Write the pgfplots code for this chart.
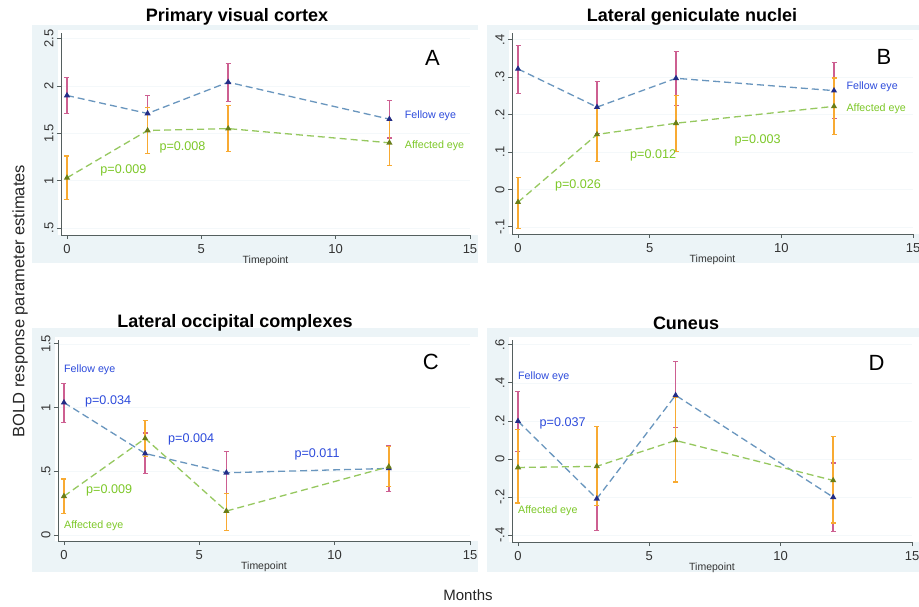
\documentclass[border=0pt]{standalone}
\usepackage{pgfplots}
\pgfplotsset{compat=1.18}
\usepackage{fontspec}
\setmainfont{Liberation Sans}
\definecolor{bgblue}{RGB}{236,244,247}
\definecolor{axisgray}{RGB}{85,95,95}
\definecolor{fellowline}{RGB}{105,150,190}
\definecolor{affline}{RGB}{150,200,95}
\definecolor{fellowerr}{RGB}{205,95,145}
\definecolor{afferr}{RGB}{248,170,50}
\definecolor{fellowmark}{RGB}{35,45,135}
\definecolor{affmark}{RGB}{105,125,25}
\definecolor{fellowtext}{RGB}{45,75,220}
\definecolor{afftext}{RGB}{125,200,40}
\pgfplotsset{
  panel/.style={
    scale only axis, anchor=south west,
    axis lines=left, axis line style={-, draw=axisgray, line width=0.9pt},
    tick align=outside, major tick length=4pt,
    tick style={draw=axisgray, line width=0.8pt},
    xtick={0,5,10,15}, xmax=15,
    tick label style={font=\fontsize{13}{13}\selectfont, text=black!80},
    xticklabel style={yshift=-2pt},
    /pgf/number format/assume math mode=true,
    yticklabel style={rotate=90, anchor=south},
    xlabel={Timepoint},
    xlabel style={font=\fontsize{10.5}{10.5}\selectfont, text=black!80, at={(axis description cs:0.5,0)}, anchor=north, yshift=-17pt},
    clip=false,
    ymajorgrids, grid style={draw=bgblue!60, line width=0.6pt},
  },
  fellow/.style={color=fellowline, line width=1.3pt, dash pattern=on 7pt off 4pt,
    mark=triangle*, mark size=2.3pt, mark options={solid, fill=fellowmark, draw=fellowmark},
    error bars/.cd, y dir=both, y explicit,
    error bar style={solid, color=fellowerr, line width=1.5pt},
    error mark options={rotate=90, mark size=2.5pt, solid, color=fellowerr, line width=1.2pt}},
  affected/.style={color=affline, line width=1.3pt, dash pattern=on 7pt off 4pt,
    mark=triangle*, mark size=2.3pt, mark options={solid, fill=affmark, draw=affmark},
    error bars/.cd, y dir=both, y explicit,
    error bar style={solid, color=afferr, line width=1.5pt},
    error mark options={rotate=90, mark size=2.5pt, solid, color=afferr, line width=1.2pt}},
}
\tikzset{
  lab/.style={font=\fontsize{10.7}{10.7}\selectfont, anchor=west, inner sep=0pt},
  pv/.style={font=\fontsize{12.6}{12.6}\selectfont, inner sep=0pt},
  big/.style={font=\fontsize{22}{22}\selectfont, inner sep=0pt},
}
\newcommand{\ptitle}{\fontsize{18}{18}\selectfont\bfseries}
\begin{document}
\begin{tikzpicture}
\path[use as bounding box] (0,0) rectangle (919pt,606pt);
% graph regions
\fill[bgblue] (32pt,343pt) rectangle (478pt,581pt);
\fill[bgblue] (487pt,343pt) rectangle (919pt,581pt);
\fill[bgblue] (32pt,34pt) rectangle (478pt,278pt);
\fill[bgblue] (487pt,34pt) rectangle (919pt,278pt);
\fill[white] (58pt,371pt) rectangle (478pt,576pt);
\fill[white] (509pt,372pt) rectangle (919pt,576pt);
\fill[white] (55pt,65pt) rectangle (478pt,269pt);
\fill[white] (509pt,64pt) rectangle (919pt,269pt);
% titles
\node[font=\ptitle] at (237pt,589pt) {Primary visual cortex};
\node[font=\ptitle] at (692pt,589pt) {Lateral geniculate nuclei};
\node[font=\ptitle] at (235pt,283pt) {Lateral occipital complexes};
\node[font=\ptitle] at (686pt,283pt) {Cuneus};
\node[rotate=90, font=\fontsize{16.5}{16.5}\selectfont, text=black!85] at (20pt,305pt) {BOLD response parameter estimates};
\node[font=\fontsize{15}{15}\selectfont, text=black!85] at (468pt,11pt) {Months};

% Panel A
\begin{axis}[panel, at={(61pt,371pt)}, width=409pt, height=202pt,
  xmin=-0.223, ymin=0.426, ymax=2.56,
  ytick={0.5,1,1.5,2,2.5}, yticklabels={.5,1,1.5,2,2.5}]
\addplot[fellow] table[x=x, y=y, y error plus=ep, y error minus=em] {
x y ep em
0 1.90 0.19 0.19
3 1.71 0.19 0.19
6 2.04 0.20 0.20
12 1.65 0.20 0.20
};
\addplot[affected] table[x=x, y=y, y error plus=ep, y error minus=em] {
x y ep em
0 1.03 0.23 0.23
3 1.53 0.24 0.24
6 1.55 0.24 0.24
12 1.40 0.24 0.24
};
\node[lab, text=fellowtext] at (axis cs:12.57,1.685) {Fellow eye};
\node[lab, text=afftext] at (axis cs:12.57,1.37) {Affected eye};
\node[pv, text=afftext] at (axis cs:2.1,1.11) {p=0.009};
\node[pv, text=afftext] at (axis cs:4.3,1.35) {p=0.008};
\node[big] at (axis cs:13.6,2.3) {A};
\end{axis}

% Panel B
\begin{axis}[panel, at={(512pt,372pt)}, width=401pt, height=201pt,
  xmin=-0.228, ymin=-0.119, ymax=0.418,
  ytick={-0.1,0,0.1,0.2,0.3,0.4}, yticklabels={-.1,0,.1,.2,.3,.4}]
\addplot[fellow] table[x=x, y=y, y error plus=ep, y error minus=em] {
x y ep em
0 0.322 0.062 0.065
3 0.220 0.069 0.070
6 0.297 0.072 0.072
12 0.264 0.075 0.074
};
\addplot[affected] table[x=x, y=y, y error plus=ep, y error minus=em] {
x y ep em
0 -0.034 0.066 0.070
3 0.147 0.070 0.072
6 0.177 0.075 0.076
12 0.222 0.076 0.076
};
\node[lab, text=fellowtext] at (axis cs:12.47,0.275) {Fellow eye};
\node[lab, text=afftext] at (axis cs:12.47,0.215) {Affected eye};
\node[pv, text=afftext] at (axis cs:2.28,0.010) {p=0.026};
\node[pv, text=afftext] at (axis cs:5.13,0.091) {p=0.012};
\node[pv, text=afftext] at (axis cs:9.1,0.131) {p=0.003};
\node[big] at (axis cs:13.9,0.354) {B};
\end{axis}

% Panel C
\begin{axis}[panel, at={(58pt,65pt)}, width=412pt, height=201pt,
  xmin=-0.22, ymin=-0.0445, ymax=1.53,
  ytick={0,0.5,1,1.5}, yticklabels={0,.5,1,1.5}]
\addplot[fellow] table[x=x, y=y, y error plus=ep, y error minus=em] {
x y ep em
0 1.04 0.150 0.155
3 0.641 0.160 0.157
6 0.49 0.167 0.163
12 0.524 0.180 0.180
};
\addplot[affected] table[x=x, y=y, y error plus=ep, y error minus=em] {
x y ep em
0 0.306 0.135 0.135
3 0.759 0.140 0.144
6 0.19 0.140 0.150
12 0.537 0.160 0.155
};
\node[lab, text=fellowtext] at (axis cs:0,1.30) {Fellow eye};
\node[lab, text=afftext] at (axis cs:0,0.073) {Affected eye};
\node[pv, text=fellowtext] at (axis cs:1.63,1.047) {p=0.034};
\node[pv, text=fellowtext] at (axis cs:4.7,0.75) {p=0.004};
\node[pv, text=fellowtext] at (axis cs:9.35,0.636) {p=0.011};
\node[pv, text=afftext] at (axis cs:1.67,0.353) {p=0.009};
\node[big] at (axis cs:13.55,1.36) {C};
\end{axis}

% Panel D
\begin{axis}[panel, at={(512pt,64pt)}, width=400pt, height=202pt,
  xmin=-0.228, ymin=-0.435, ymax=0.625,
  ytick={-0.4,-0.2,0,0.2,0.4,0.6}, yticklabels={-.4,-.2,0,.2,.4,.6}]
\addplot[fellow] table[x=x, y=y, y error plus=ep, y error minus=em] {
x y ep em
0 0.199 0.155 0.160
3 -0.208 0.165 0.165
6 0.335 0.176 0.170
12 -0.200 0.180 0.180
};
\addplot[affected] table[x=x, y=y, y error plus=ep, y error minus=em] {
x y ep em
0 -0.044 0.198 0.186
3 -0.038 0.210 0.206
6 0.098 0.227 0.218
12 -0.112 0.231 0.223
};
\node[lab, text=fellowtext] at (axis cs:0,0.431) {Fellow eye};
\node[lab, text=afftext] at (axis cs:0,-0.269) {Affected eye};
\node[pv, text=fellowtext] at (axis cs:1.7,0.188) {p=0.037};
\node[big] at (axis cs:13.65,0.506) {D};
\end{axis}
\end{tikzpicture}
\end{document}
